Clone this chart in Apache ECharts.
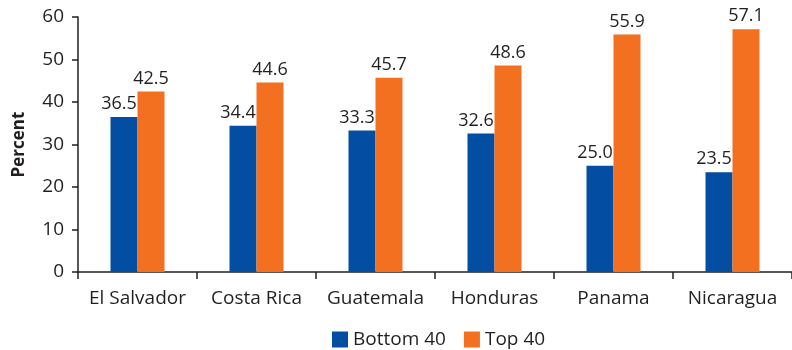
<!DOCTYPE html>
<html><head><meta charset="utf-8">
<script src="https://cdn.jsdelivr.net/npm/echarts@6/dist/echarts.min.js"></script>
<style>html,body{margin:0;padding:0;background:#fff}#c{width:792px;height:350px}</style>
</head><body><div id="c"></div>
<script>
const categories = ["El Salvador","Costa Rica","Guatemala","Honduras","Panama","Nicaragua"];
const bottom40 = [36.5,34.4,33.3,32.6,25.0,23.5];
const top40 = [42.5,44.6,45.7,48.6,55.9,57.1];
const yTicks = [0,10,20,30,40,50,60];
const font = "Open Sans";
const chart = echarts.init(document.getElementById('c'));
const lbl = {show:true, position:'top', distance:4, color:'#231f20', fontFamily:font, fontSize:18, formatter:p=>p.value.toFixed(1)};
chart.setOption({
  animation:false,
  textStyle:{fontFamily:font},
  grid:{left:78,right:-4,top:17,bottom:78},
  legend:{top:325,left:327,itemWidth:16,itemHeight:16,itemGap:18,icon:'rect',
    textStyle:{fontFamily:font,fontSize:19,color:'#231f20'},data:['Bottom 40','Top 40']},
  xAxis:{type:'category',data:categories,
    axisLine:{lineStyle:{color:'#231f20',width:1.5}},
    axisTick:{show:true,length:7,lineStyle:{color:'#231f20',width:1.5}},
    axisLabel:{color:'#231f20',fontSize:19,fontFamily:font,margin:17,interval:0,hideOverlap:false}},
  yAxis:{type:'value',min:yTicks[0],max:yTicks[yTicks.length-1],interval:10,
    name:'Percent',nameLocation:'middle',nameGap:50,nameRotate:90,
    nameTextStyle:{fontFamily:font,fontSize:17,fontWeight:'bold',color:'#231f20'},
    splitLine:{show:false},
    axisLine:{show:true,lineStyle:{color:'#231f20',width:1.5}},
    axisTick:{show:true,length:6,lineStyle:{color:'#231f20',width:1.5}},
    axisLabel:{color:'#231f20',fontSize:19,fontFamily:font,margin:14}},
  series:[
    {name:'Bottom 40',type:'bar',data:bottom40,barWidth:27,barGap:'0%',itemStyle:{color:'#034ea2'},label:Object.assign({},lbl,{offset:[-5,0]})},
    {name:'Top 40',type:'bar',data:top40,barWidth:27,barGap:'0%',itemStyle:{color:'#f37021'},label:lbl}
  ]
});
</script></body></html>
